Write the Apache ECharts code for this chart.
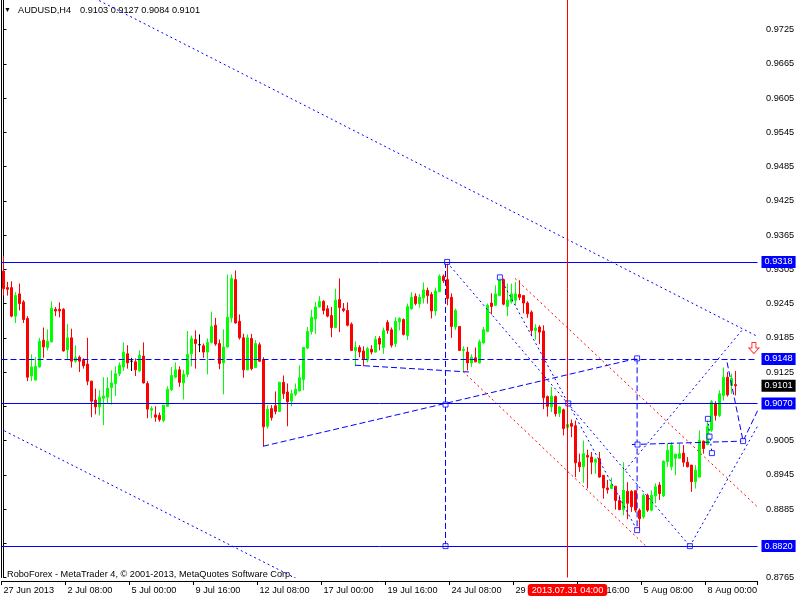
<!DOCTYPE html>
<html><head><meta charset="utf-8">
<script src="https://cdn.jsdelivr.net/npm/echarts@6/dist/echarts.min.js"></script>
<style>html,body{margin:0;padding:0;background:#fff;}#chart{width:800px;height:600px;}</style>
</head><body><div id="chart"></div>
<script>
const symbolName = 'AUDUSD';
const timeframe = 'H4';
const tickBars = [0,16,32,48,64,80,96,112,128,144,160,176];
const tickLabels = ['27 Jun 2013','2 Jul 08:00','5 Jul 00:00','9 Jul 16:00','12 Jul 08:00','17 Jul 00:00','19 Jul 16:00','24 Jul 08:00','29 Jul 00:00','31 Jul 16:00','5 Aug 08:00','8 Aug 00:00'];

const opens = [0.9302,0.9273,0.9273,0.9223,0.9262,0.9248,0.9219,0.9118,0.9111,0.9134,
0.9181,0.9168,0.9178,0.9235,0.9235,0.9235,0.9164,0.9185,0.9144,0.9151,
0.9146,0.9139,0.9109,0.9076,0.9064,0.9079,0.9081,0.9098,0.9105,0.9122,
0.9134,0.9157,0.9144,0.9143,0.9127,0.9153,0.9105,0.9058,0.9050,0.9049,
0.9040,0.9065,0.9094,0.9116,0.9129,0.9106,0.9121,0.9157,0.9182,0.9173,
0.9171,0.9160,0.9177,0.9207,0.9175,0.9141,0.9169,0.9220,0.9287,0.9214,
0.9185,0.9129,0.9184,0.9133,0.9173,0.9147,0.9030,0.9061,0.9066,0.9056,
0.9107,0.9090,0.9074,0.9086,0.9092,0.9112,0.9167,0.9196,0.9218,0.9239,
0.9249,0.9236,0.9224,0.9203,0.9252,0.9236,0.9233,0.9209,0.9163,0.9168,
0.9162,0.9146,0.9165,0.9160,0.9184,0.9168,0.9212,0.9199,0.9175,0.9213,
0.9217,0.9189,0.9236,0.9258,0.9245,0.9255,0.9268,0.9261,0.9232,0.9266,
0.9293,0.9287,0.9256,0.9204,0.9205,0.9163,0.9160,0.9141,0.9150,0.9141,
0.9176,0.9196,0.9246,0.9242,0.9259,0.9287,0.9240,0.9248,0.9251,0.9261,
0.9259,0.9246,0.9230,0.9198,0.9204,0.9197,0.9082,0.9064,0.9082,0.9053,
0.9059,0.9028,0.9035,0.9031,0.8967,0.8959,0.8979,0.8976,0.8967,0.8973,
0.8944,0.8922,0.8921,0.8925,0.8900,0.8884,0.8916,0.8916,0.8917,0.8883,
0.8871,0.8909,0.8883,0.8908,0.8927,0.8908,0.8968,0.8959,0.8974,0.8974,
0.8983,0.8967,0.8962,0.8933,0.8941,0.9004,0.8998,0.9023,0.9070,0.9049,
0.9084,0.9116,0.9102,0.9103];
const highs = [0.9328,0.9283,0.9284,0.9265,0.9280,0.9251,0.9223,0.9156,0.9151,0.9185,
0.9203,0.9200,0.9249,0.9239,0.9247,0.9237,0.9209,0.9201,0.9172,0.9154,
0.9149,0.9185,0.9110,0.9096,0.9093,0.9116,0.9116,0.9128,0.9135,0.9142,
0.9177,0.9172,0.9150,0.9149,0.9163,0.9177,0.9109,0.9065,0.9065,0.9054,
0.9067,0.9100,0.9134,0.9142,0.9135,0.9129,0.9197,0.9189,0.9198,0.9191,
0.9175,0.9184,0.9231,0.9220,0.9182,0.9200,0.9296,0.9296,0.9303,0.9226,
0.9192,0.9191,0.9192,0.9181,0.9177,0.9151,0.9067,0.9067,0.9091,0.9108,
0.9119,0.9105,0.9094,0.9105,0.9137,0.9169,0.9204,0.9234,0.9248,0.9258,
0.9251,0.9242,0.9239,0.9271,0.9289,0.9246,0.9247,0.9212,0.9179,0.9172,
0.9170,0.9169,0.9172,0.9188,0.9188,0.9203,0.9216,0.9203,0.9221,0.9221,
0.9219,0.9245,0.9265,0.9263,0.9262,0.9282,0.9273,0.9265,0.9273,0.9296,
0.9296,0.9318,0.9263,0.9236,0.9205,0.9170,0.9169,0.9156,0.9168,0.9182,
0.9204,0.9245,0.9263,0.9277,0.9293,0.9289,0.9280,0.9280,0.9283,0.9286,
0.9259,0.9249,0.9233,0.9209,0.9207,0.9207,0.9084,0.9099,0.9084,0.9065,
0.9061,0.9034,0.9042,0.9040,0.8982,0.9005,0.8989,0.8985,0.8974,0.8985,
0.8944,0.8936,0.8940,0.8925,0.8909,0.8967,0.8932,0.8918,0.8918,0.8886,
0.8912,0.8912,0.8918,0.8930,0.8932,0.8970,0.9000,0.9002,0.8982,0.9000,
0.8997,0.8976,0.8962,0.8962,0.9023,0.9005,0.9043,0.9076,0.9074,0.9093,
0.9133,0.9125,0.9122,0.9127];
const lows = [0.9259,0.9259,0.9221,0.9211,0.9233,0.9211,0.9109,0.9109,0.9110,0.9133,
0.9150,0.9163,0.9177,0.9223,0.9221,0.9161,0.9147,0.9133,0.9141,0.9125,
0.9131,0.9102,0.9046,0.9051,0.9049,0.9032,0.9070,0.9068,0.9083,0.9118,
0.9127,0.9131,0.9127,0.9118,0.9126,0.9105,0.9044,0.9044,0.9038,0.9038,
0.9037,0.9064,0.9092,0.9114,0.9099,0.9077,0.9116,0.9135,0.9131,0.9160,
0.9150,0.9121,0.9175,0.9171,0.9130,0.9086,0.9168,0.9212,0.9210,0.9182,
0.9115,0.9128,0.9128,0.9132,0.9143,0.8995,0.9026,0.9040,0.9051,0.9055,
0.9078,0.9030,0.9065,0.9083,0.9091,0.9093,0.9165,0.9191,0.9192,0.9238,
0.9226,0.9221,0.9186,0.9202,0.9195,0.9230,0.9205,0.9162,0.9135,0.9151,
0.9135,0.9142,0.9156,0.9159,0.9163,0.9157,0.9192,0.9168,0.9169,0.9198,
0.9189,0.9181,0.9234,0.9242,0.9238,0.9245,0.9245,0.9219,0.9224,0.9265,
0.9281,0.9242,0.9185,0.9199,0.9162,0.9125,0.9128,0.9134,0.9142,0.9140,
0.9175,0.9195,0.9226,0.9241,0.9258,0.9242,0.9223,0.9245,0.9242,0.9251,
0.9228,0.9220,0.9189,0.9182,0.9174,0.9060,0.9047,0.9055,0.9047,0.9046,
0.9014,0.9027,0.9011,0.8941,0.8950,0.8931,0.8921,0.8946,0.8947,0.8940,
0.8903,0.8912,0.8920,0.8884,0.8883,0.8874,0.8867,0.8880,0.8879,0.8848,
0.8868,0.8880,0.8881,0.8895,0.8901,0.8906,0.8959,0.8953,0.8944,0.8973,
0.8959,0.8958,0.8915,0.8921,0.8940,0.8982,0.8997,0.9020,0.9040,0.9046,
0.9075,0.9082,0.9087,0.9084];
const closes = [0.9271,0.9270,0.9223,0.9259,0.9245,0.9217,0.9116,0.9134,0.9135,0.9179,
0.9169,0.9179,0.9237,0.9232,0.9232,0.9162,0.9185,0.9144,0.9150,0.9144,
0.9136,0.9109,0.9074,0.9064,0.9081,0.9083,0.9097,0.9106,0.9122,0.9137,
0.9160,0.9141,0.9144,0.9129,0.9154,0.9106,0.9060,0.9061,0.9046,0.9042,
0.9067,0.9095,0.9119,0.9129,0.9107,0.9121,0.9156,0.9184,0.9175,0.9173,
0.9160,0.9177,0.9205,0.9174,0.9140,0.9169,0.9221,0.9289,0.9211,0.9185,
0.9129,0.9185,0.9131,0.9175,0.9144,0.9029,0.9060,0.9045,0.9056,0.9107,
0.9087,0.9073,0.9087,0.9095,0.9115,0.9168,0.9196,0.9221,0.9239,0.9249,
0.9233,0.9223,0.9203,0.9251,0.9238,0.9233,0.9207,0.9163,0.9168,0.9160,
0.9147,0.9166,0.9160,0.9182,0.9174,0.9198,0.9198,0.9172,0.9214,0.9219,
0.9191,0.9240,0.9256,0.9245,0.9256,0.9269,0.9259,0.9232,0.9267,0.9293,
0.9285,0.9254,0.9205,0.9233,0.9163,0.9165,0.9141,0.9151,0.9143,0.9178,
0.9199,0.9242,0.9240,0.9262,0.9287,0.9244,0.9251,0.9262,0.9262,0.9256,
0.9246,0.9227,0.9198,0.9202,0.9195,0.9080,0.9065,0.9083,0.9052,0.9064,
0.9026,0.9033,0.9030,0.8966,0.8959,0.8982,0.8976,0.8967,0.8972,0.8941,
0.8922,0.8919,0.8927,0.8900,0.8884,0.8918,0.8895,0.8889,0.8883,0.8868,
0.8909,0.8883,0.8909,0.8924,0.8912,0.8969,0.8988,0.8997,0.8981,0.8982,
0.8967,0.8959,0.8933,0.8953,0.9005,0.8991,0.9029,0.9073,0.9049,0.9087,
0.9116,0.9085,0.9114,0.9101];

// horizontal price levels
const solidLevels = [0.9318, 0.9070, 0.8820];
const dashedLevels = [0.9148];
const bidPrice = 0.9101;
const crosshairBar = 141;

// trend objects: [barIndex, price] anchors
const blueDotted = [
  [[23.9,0.9776],[188.9,0.9186]],
  [[-0.9,0.9026],[74.1,0.8760]],
  [[110.9,0.9317],[171.6,0.8820]],
  [[124.1,0.9291],[158.4,0.8848]],
  [[155.4,0.8953],[184.6,0.9198]],
  [[171.6,0.8820],[188.9,0.9035]],
  [[176.1,0.9043],[177.1,0.8983]]
];
const blueDashed = [
  [[64.9,0.8995],[158.4,0.9149]],
  [[87.9,0.9137],[116.6,0.9125]],
  [[110.5,0.9318],[110.5,0.8820]],
  [[158.4,0.9149],[158.4,0.8851]],
  [[157.1,0.8998],[184.9,0.9004]],
  [[180.9,0.9142],[184.9,0.9004],[188.9,0.9063]]
];
const redDotted = [
  [[114.9,0.9126],[160.6,0.8820]],
  [[127.9,0.9289],[188.9,0.8886]]
];
const anchorPoints = [[176.1,0.9043],[176.5,0.9012],[177.1,0.8983],[184.9,0.9004],[158.4,0.9149],[158.5,0.8998],[158.4,0.8848],[171.6,0.8820],[124.1,0.9291],[141.2,0.9070],[110.9,0.9318],[110.5,0.9068],[110.5,0.8820]];
const arrowPoint = [187.6, 0.9167];

const N_BARS = 189;
function barTimes(n){
  const out=[]; let t=Date.UTC(2013,5,27,16);
  const p=v=>String(v).padStart(2,'0');
  while(out.length<n){
    const d=new Date(t); const w=d.getUTCDay();
    if(w!==0&&w!==6) out.push(d.getUTCFullYear()+'.'+p(d.getUTCMonth()+1)+'.'+p(d.getUTCDate())+' '+p(d.getUTCHours())+':00');
    t+=4*3600000;
  }
  return out;
}
const cats = barTimes(N_BARS);
const candles = opens.map((o,i)=>[o, closes[i], lows[i], highs[i]]);

const FONT = "'Liberation Sans', Arial, sans-serif";
const FS = 9.2;
const yMin = 0.8765, yMax = 0.9777, yStep = 0.006;
const BLUE = '#0000ff', RED = '#ff0000';
const DOT = [2,3], DASH = [6,3];

function lineSeries(pts, color, dash){
  return {type:'line', xAxisIndex:1, yAxisIndex:0, data:pts, symbol:'none', silent:true,
    lineStyle:{color:color, width:1, type:dash}, z:3, animation:false};
}
const boxLabel = (bg)=>({show:true, position:'end', distance:4, backgroundColor:bg, color:'#fff',
  padding:[2,3,1,3], fontSize:FS, fontFamily:FONT, formatter:p=>Number(p.value).toFixed(4)});

const last = opens.length-1;
const option = {
  animation:false,
  backgroundColor:'#fff',
  axisPointer:{triggerOn:'none', link:[]},
  grid:{left:1.5, top:0, width:N_BARS*4, height:577.5, show:false},
  xAxis:[
    {type:'category', data:cats, boundaryGap:true, offset:3.5,
     axisLine:{show:true, lineStyle:{color:'#000', width:1}},
     axisTick:{show:true, interval:(i)=>tickBars.includes(i), length:4, lineStyle:{color:'#000'}},
     axisLabel:{interval:(i)=>tickBars.includes(i), formatter:(v,i)=>{const k=tickBars.indexOf(i);return k>=0?tickLabels[k]:'';},
       align:'left', margin:5, fontSize:FS, fontFamily:FONT, color:'#000'},
     splitLine:{show:false},
     axisPointer:{show:true, type:'line', value:crosshairBar, status:'show', snap:false, triggerTooltip:false,
       lineStyle:{color:RED, width:1, type:'solid', opacity:0},
       label:{show:true, backgroundColor:RED, color:'#fff', fontSize:FS, fontFamily:FONT, padding:[2,4,1,4], margin:3,
         formatter:()=>cats[crosshairBar]}}},
    {type:'value', min:-0.5, max:N_BARS-0.5, show:false, axisPointer:{show:false}}
  ],
  yAxis:[
    {type:'value', position:'right', min:yMin, max:yMax, interval:yStep, offset:2,
     axisLine:{show:true, lineStyle:{color:'#000'}},
     axisTick:{show:true, length:3, lineStyle:{color:'#000'}},
     axisLabel:{margin:6.5, fontSize:FS, fontFamily:FONT, color:'#000', formatter:v=>v.toFixed(4), showMaxLabel:false},
     splitLine:{show:false}, axisPointer:{show:false}},
    {type:'value', position:'left', min:yMin, max:yMax,
     axisLine:{show:true, lineStyle:{color:'#000'}}, axisTick:{show:false}, axisLabel:{show:false},
     splitLine:{show:false}, axisPointer:{show:false}}
  ],
  graphic:[
    {type:'text', left:4, top:7, style:{text:'▼', font:'7px '+FONT, fill:'#000'}},
    {type:'text', left:18, top:6, style:{text:symbolName+','+timeframe, font:FS+'px '+FONT, fill:'#000'}},
    {type:'text', left:80, top:6, style:{text:[opens[last],highs[last],lows[last],closes[last]].map(v=>v.toFixed(4)).join(' '), font:FS+'px '+FONT, fill:'#000'}},
    {type:'text', left:7, top:570, style:{text:'RoboForex - MetaTrader 4, © 2001-2013, MetaQuotes Software Corp.', font:FS+'px '+FONT, fill:'#000'}}
  ],
  series:[
    {type:'candlestick', data:candles, barWidth:2, z:2,
     itemStyle:{color:'#00ff00', color0:RED, borderColor:'#00ff00', borderColor0:RED, borderColorDoji:'#000', borderWidth:1},
     markLine:{silent:true, symbol:['none','none'], animation:false, precision:4,
       data:[
         ...solidLevels.map(v=>({yAxis:v, lineStyle:{color:BLUE, width:1, type:'solid'}, label:boxLabel(BLUE)})),
         ...dashedLevels.map(v=>({yAxis:v, lineStyle:{color:BLUE, width:1, type:DASH}, label:boxLabel(BLUE)})),
         {yAxis:bidPrice, lineStyle:{color:'rgba(0,0,0,0)', width:1}, label:boxLabel('#000')},
         {xAxis:crosshairBar, lineStyle:{color:RED, width:1, type:'solid'}, label:{show:false}}
       ]}},
    ...blueDotted.map(p=>lineSeries(p, BLUE, DOT)),
    ...blueDashed.map(p=>lineSeries(p, BLUE, DASH)),
    ...redDotted.map(p=>lineSeries(p, RED, DOT)),
    {type:'scatter', xAxisIndex:1, data:anchorPoints, symbol:'rect', symbolSize:5, silent:true, z:4,
     itemStyle:{color:'#fff', borderColor:BLUE, borderWidth:1}},
    {type:'scatter', xAxisIndex:1, data:[arrowPoint], symbol:'path://M3,0 L7,0 L7,5 L10,5 L5,10 L0,5 L3,5 Z',
     symbolSize:[10,11], silent:true, z:4, itemStyle:{color:'#fff', borderColor:RED, borderWidth:1}}
  ]
};
const chart = echarts.init(document.getElementById('chart'), null, {renderer:'canvas'});
chart.setOption(option);
</script></body></html>
